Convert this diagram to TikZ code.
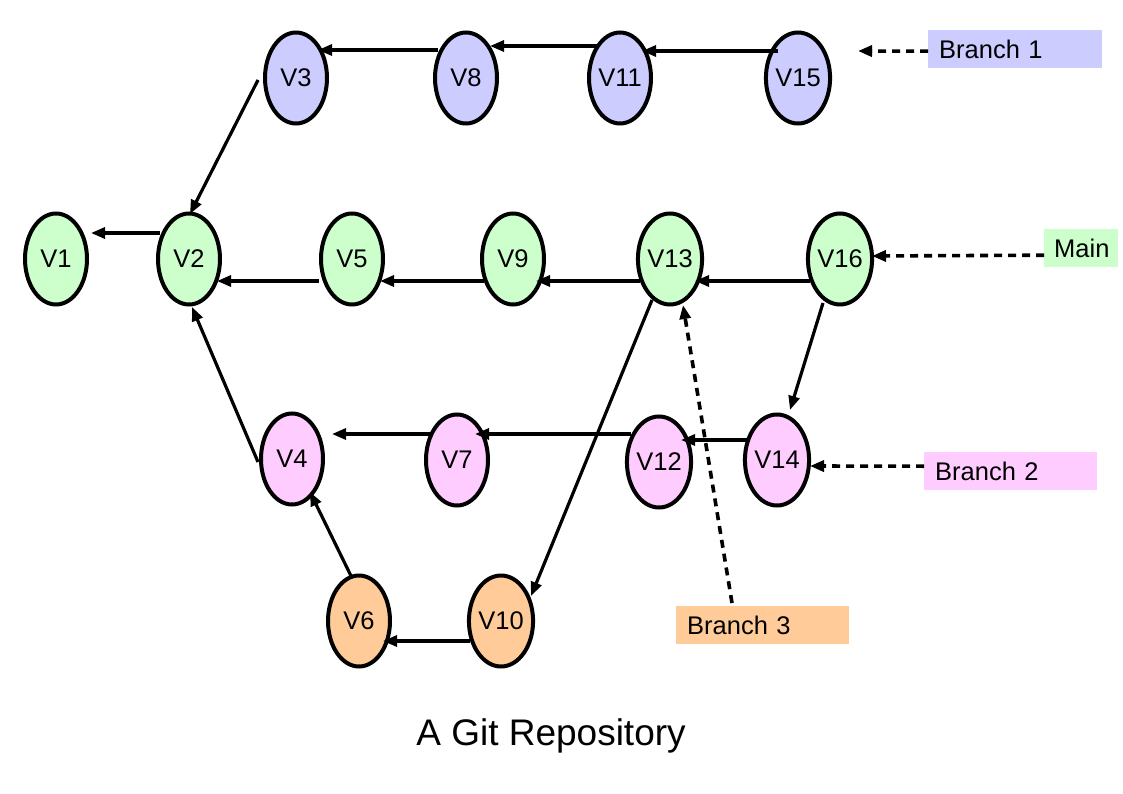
\documentclass[tikz,border=0pt]{standalone}
\usepackage{fontspec}
\setmainfont{Liberation Sans}
\usetikzlibrary{arrows.meta,shapes.geometric}
\definecolor{cblue}{HTML}{CCCCFF}
\definecolor{cgreen}{HTML}{CCFFCC}
\definecolor{cpink}{HTML}{FFCCFF}
\definecolor{corange}{HTML}{FFCC99}
\begin{document}
\begin{tikzpicture}[x=1pt,y=-1pt,
  ver/.style={ellipse, draw=black, line width=4pt, minimum width=62pt, minimum height=91pt, inner sep=0pt, font=\fontsize{25.5}{28}\selectfont},
  lab/.style={rectangle, anchor=north west, inner ysep=0pt, inner xsep=11pt, minimum height=38pt, align=left, font=\fontsize{25.5}{28}\selectfont},
  arr/.style={line width=3.2pt, -{Triangle[length=14pt,width=11pt]}},
  darr/.style={line width=3.6pt, dash pattern=on 8pt off 6pt, -{Triangle[length=14pt,width=11pt]}}
]
\useasboundingbox (0,0) rectangle (1123,794);
% main row
\node[ver, fill=cgreen] (V1) at (56,259) {V1};
\node[ver, fill=cgreen] (V2) at (189,259) {V2};
\node[ver, fill=cgreen] (V5) at (352,259) {V5};
\node[ver, fill=cgreen] (V9) at (513,259) {V9};
\node[ver, fill=cgreen] (V13) at (670,259) {V13};
\node[ver, fill=cgreen] (V16) at (840,259) {V16};
% branch 1
\node[ver, fill=cblue] (V3) at (296,78) {V3};
\node[ver, fill=cblue] (V8) at (466,78) {V8};
\node[ver, fill=cblue] (V11) at (620,78) {V11};
\node[ver, fill=cblue] (V15) at (798,78) {V15};
% branch 2
\node[ver, fill=cpink] (V4) at (292,459) {V4};
\node[ver, fill=cpink] (V7) at (457,460) {V7};
\node[ver, fill=cpink] (V12) at (659,462) {V12};
\node[ver, fill=cpink] (V14) at (777,460) {V14};
% branch 3
\node[ver, fill=corange] (V6) at (359,621) {V6};
\node[ver, fill=corange] (V10) at (501,621) {V10};
% labels
\node[lab, fill=cblue, text width=152pt] (B1) at (928,30) {Branch 1};
\node[lab, fill=cgreen, text width=54pt, inner xsep=10pt] (M) at (1044,229) {Main};
\node[lab, fill=cpink, text width=151pt] (B2) at (924,452) {Branch 2};
\node[lab, fill=corange, text width=151pt] (B3) at (676,606) {Branch 3};
\node[font=\fontsize{37}{40}\selectfont] (T) at (551,736) {A Git Repository};
% edges
\draw[arr] ([shift={(-20,-27)}]V15.center) -- ([shift={(22,-27)}]V11.center);
\draw[arr] ([shift={(-22,-32)}]V11.center) -- ([shift={(24,-32)}]V8.center);
\draw[arr] ([shift={(-28,-28)}]V8.center) -- ([shift={(22,-28)}]V3.center);
\draw[arr] ([shift={(-38,2)}]V3.center) -- ([shift={(1,-45)}]V2.center);
\draw[arr] ([shift={(-29,-26)}]V2.center) -- ([shift={(35,-26)}]V1.center);
\draw[arr] ([shift={(-33,22)}]V5.center) -- ([shift={(28,22)}]V2.center);
\draw[arr] ([shift={(-29,22)}]V9.center) -- ([shift={(28,22)}]V5.center);
\draw[arr] ([shift={(-30,22)}]V13.center) -- ([shift={(23,22)}]V9.center);
\draw[arr] ([shift={(-30,22)}]V16.center) -- ([shift={(25,22)}]V13.center);
\draw[arr] ([shift={(-17,44)}]V16.center) -- ([shift={(13,-50)}]V14.center);
\draw[arr] ([shift={(-18,41)}]V13.center) -- ([shift={(30,-25)}]V10.center);
\draw[arr] ([shift={(-27,-20)}]V14.center) -- ([shift={(22,-22)}]V12.center);
\draw[arr] ([shift={(-28,-28)}]V12.center) -- ([shift={(18,-26)}]V7.center);
\draw[arr] ([shift={(-27,-26)}]V7.center) -- ([shift={(40,-25)}]V4.center);
\draw[arr] ([shift={(-34,3)}]V4.center) -- ([shift={(3,48)}]V2.center);
\draw[arr] ([shift={(-7,-43)}]V6.center) -- ([shift={(18,33)}]V4.center);
\draw[arr] ([shift={(-31,20)}]V10.center) -- ([shift={(24,20)}]V6.center);
% dashed pointers
\draw[darr] ([shift={(0,2)}]B1.west) -- ([shift={(60,-27)}]V15.center);
\draw[darr] ([shift={(0,7)}]M.west) -- ([shift={(32,-3)}]V16.center);
\draw[darr] ([shift={(0,-5)}]B2.west) -- ([shift={(33,6)}]V14.center);
\draw[darr] ([shift={(56,-3)}]B3.north west) -- ([shift={(13,46)}]V13.center);
\end{tikzpicture}
\end{document}
